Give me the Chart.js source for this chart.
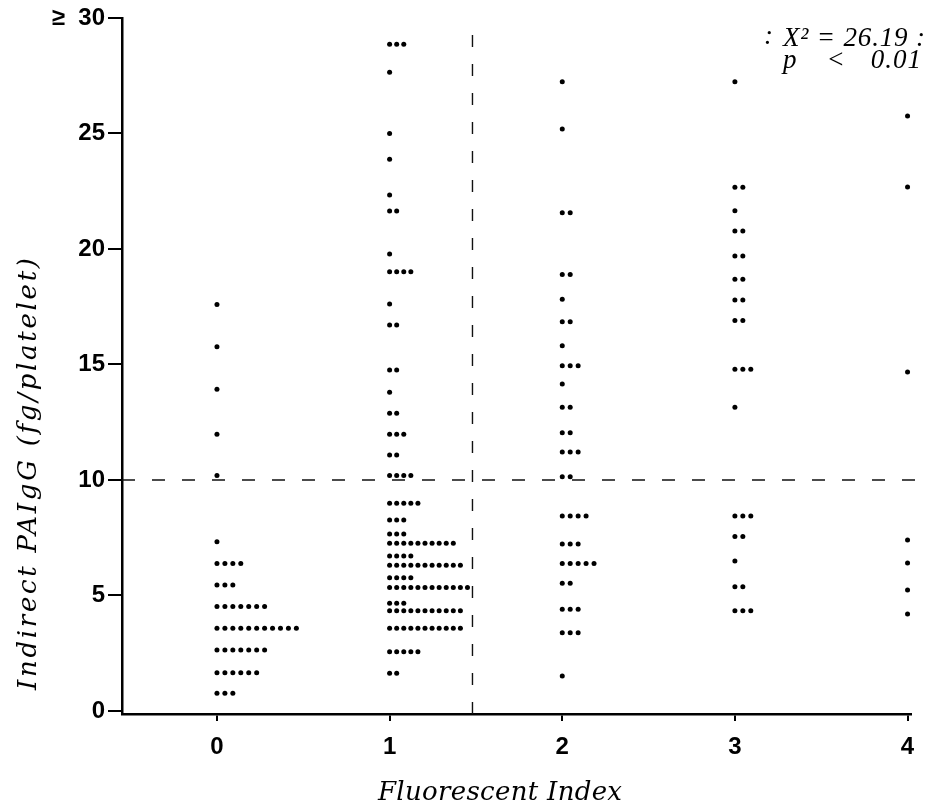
<!DOCTYPE html>
<html><head><meta charset="utf-8">
<script src="https://cdn.jsdelivr.net/npm/chart.js@4.4.0/dist/chart.umd.min.js"></script>
<style>html,body{margin:0;padding:0;background:#fff}#wrap{width:929px;height:810px;position:relative}</style>
</head><body><div id="wrap"><canvas id="c" width="929" height="810"></canvas></div>
<script>
// Fluorescent index categories and tick labels
const categories = [0, 1, 2, 3, 4];
const xTickLabels = ['0', '1', '2', '3', '4'];
const yTickValues = [0, 5, 10, 15, 20, 25, 30];
const yTickLabels = ['0', '5', '10', '15', '20', '25', '\u2265  30'];

// Indirect PAIgG values (fg/platelet) and number of patients at each value
const fi0Values = [17.6, 15.77, 13.93, 11.98, 10.19, 7.33, 6.39, 5.45, 4.52, 3.58, 2.64, 1.66, 0.77];
const fi0Counts = [1, 1, 1, 1, 1, 1, 4, 3, 7, 11, 7, 6, 3];
const fi1Values = [28.86, 27.65, 25.0, 23.88, 22.34, 21.65, 19.78, 19.02, 17.62, 16.71, 14.76, 13.8, 12.89, 11.98, 11.08, 10.19, 8.99, 8.27, 7.66, 7.26, 6.71, 6.31, 5.77, 5.35, 4.66, 4.34, 3.58, 2.57, 1.63];
const fi1Counts = [3, 1, 1, 1, 1, 2, 1, 4, 1, 2, 2, 1, 2, 3, 2, 4, 5, 3, 3, 10, 4, 11, 4, 12, 3, 11, 11, 5, 2];
const fi2Values = [27.24, 25.19, 21.57, 18.9, 17.82, 16.85, 15.81, 14.95, 14.16, 13.15, 12.05, 11.21, 10.14, 8.44, 7.23, 6.39, 5.53, 4.4, 3.39, 1.52];
const fi2Counts = [1, 1, 2, 2, 1, 2, 1, 3, 1, 2, 2, 3, 2, 4, 3, 5, 2, 3, 3, 1];
const fi3Values = [27.24, 22.67, 21.66, 20.78, 19.7, 18.69, 17.79, 16.9, 14.79, 13.15, 8.44, 7.55, 6.49, 5.38, 4.34];
const fi3Counts = [1, 2, 1, 2, 2, 2, 2, 2, 3, 1, 3, 2, 1, 2, 3];
const fi4Values = [25.76, 22.68, 14.68, 7.4, 6.41, 5.24, 4.2];
const fi4Counts = [1, 2, 1, 2, 1, 1, 2];

// Cut-off reference lines
const indexCutoff = 1.48;
const paigCutoff = 10;

// Annotation text
const statLine1 = 'X\u00B2 = 26.19 :';
const statLine2Parts = ['p', '<', '0.01'];

const valuesByCat = [fi0Values, fi1Values, fi2Values, fi3Values, fi4Values];
const countsByCat = [fi0Counts, fi1Counts, fi2Counts, fi3Counts, fi4Counts];
const dotStep = [0.046, 0.041, 0.046, 0.046, 0.046]; // horizontal spread of stacked dots (style)

const points = [];
categories.forEach((cat, ci) => {
  valuesByCat[ci].forEach((v, i) => {
    for (let k = 0; k < countsByCat[ci][i]; k++) {
      points.push({ x: cat + k * dotStep[ci], y: v });
    }
  });
});

const X_MIN = -0.55, X_MAX = 4.02, Y_MIN = -0.13, Y_MAX = 30;

const textPlugin = {
  id: 'texts',
  afterDraw(chart) {
    const ctx = chart.ctx;
    ctx.save();
    ctx.fillStyle = '#000';
    function spaced(text, font, target) {
      ctx.font = font;
      ctx.letterSpacing = '0px';
      const w = ctx.measureText(text).width;
      const sp = Math.max(0, (target - w) / (text.length - 1));
      ctx.letterSpacing = sp + 'px';
    }
    ctx.textAlign = 'left';
    ctx.textBaseline = 'alphabetic';
    // x title
    const xt = 'Fluorescent Index';
    spaced(xt, 'italic 26px "DejaVu Serif"', 244);
    ctx.fillText(xt, 378, 800);
    // y title
    const yt = 'Indirect PAIgG (fg/platelet)';
    spaced(yt, 'italic 26px "DejaVu Serif"', 432);
    ctx.save();
    ctx.translate(36, 690);
    ctx.rotate(-Math.PI / 2);
    ctx.fillText(yt, 0, 0);
    ctx.restore();
    // annotation
    ctx.letterSpacing = '0px';
    ctx.font = 'italic 27px "Liberation Serif"';
    ctx.fillText(':', 764, 44);
    spaced(statLine1, 'italic 27px "Liberation Serif"', 142);
    ctx.fillText(statLine1, 783, 46);
    ctx.letterSpacing = '1px';
    ctx.font = 'italic 27px "Liberation Serif"';
    ctx.textAlign = 'left';
    ctx.fillText(statLine2Parts[0], 783, 68);
    ctx.textAlign = 'center';
    ctx.fillText(statLine2Parts[1], 836, 68);
    ctx.textAlign = 'right';
    ctx.fillText(statLine2Parts[2], 922, 68);
    ctx.restore();
  }
};

const ctx = document.getElementById('c').getContext('2d');
new Chart(ctx, {
  type: 'scatter',
  data: {
    datasets: [
      {
        data: points,
        backgroundColor: '#000',
        borderWidth: 0,
        pointRadius: 2.5,
        pointHoverRadius: 2.5
      },
      {
        type: 'line',
        data: [{ x: indexCutoff, y: Y_MIN }, { x: indexCutoff, y: Y_MAX - 0.05 }],
        borderColor: '#111',
        borderWidth: 1.4,
        borderDash: [12, 17],
        pointRadius: 0,
        fill: false
      },
      {
        type: 'line',
        data: [{ x: X_MIN, y: paigCutoff }, { x: 4.12, y: paigCutoff }],
        borderColor: '#111',
        borderWidth: 1.4,
        borderDash: [13, 17],
        pointRadius: 0,
        fill: false,
        clip: false
      }
    ]
  },
  options: {
    responsive: false,
    animation: false,
    events: [],
    layout: { padding: { top: 18, right: 18, left: 0, bottom: 0 } },
    plugins: { legend: { display: false }, tooltip: { enabled: false } },
    scales: {
      x: {
        type: 'linear',
        min: X_MIN, max: X_MAX,
        afterBuildTicks: (s) => { s.ticks = categories.map(v => ({ value: v })); },
        afterFit: (s) => { s.height = 96; },
        border: { display: true, color: '#000', width: 2.5 },
        grid: { display: true, drawOnChartArea: false, drawTicks: true, tickLength: 7, color: '#000', lineWidth: 2 },
        ticks: {
          color: '#000',
          padding: 12,
          maxRotation: 0,
          font: { family: '"Liberation Sans", Arial, sans-serif', size: 24, weight: 'bold' },
          callback: (v) => { const i = categories.indexOf(v); return i >= 0 ? xTickLabels[i] : ''; }
        }
      },
      y: {
        type: 'linear',
        min: Y_MIN, max: Y_MAX,
        afterBuildTicks: (s) => { s.ticks = yTickValues.map(v => ({ value: v })); },
        afterFit: (s) => { s.width = 122; },
        border: { display: true, color: '#000', width: 2.5 },
        grid: { display: true, drawOnChartArea: false, drawTicks: true, tickLength: 14, color: '#000', lineWidth: 2 },
        ticks: {
          color: '#000',
          padding: 3,
          font: { family: '"Liberation Sans", Arial, sans-serif', size: 24, weight: 'bold' },
          callback: (v) => { const i = yTickValues.indexOf(v); return i >= 0 ? yTickLabels[i] : ''; }
        }
      }
    }
  },
  plugins: [textPlugin]
});
</script>
</body></html>
